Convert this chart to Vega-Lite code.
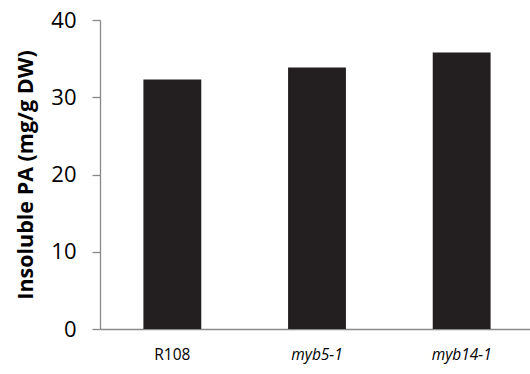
{
  "$schema": "https://vega.github.io/schema/vega-lite/v6.json",
  "width": 434,
  "height": 309,
  "autosize": {"type": "none"},
  "padding": {"left": 100, "top": 20, "right": 0, "bottom": 45},
  "background": "white",
  "config": {"view": {"stroke": null}, "font": "Open Sans"},
  "data": {
    "values": [
      {"genotype": "R108", "pa": 32.3},
      {"genotype": "myb5-1", "pa": 33.85},
      {"genotype": "myb14-1", "pa": 35.8}
    ]
  },
  "mark": {"type": "bar", "color": "#231f20"},
  "encoding": {
    "x": {
      "field": "genotype",
      "type": "nominal",
      "sort": null,
      "scale": {"paddingInner": 0.6, "paddingOuter": 0.3},
      "axis": {
        "title": null,
        "labelAngle": 0,
        "ticks": false,
        "tickSize": 0,
        "domainColor": "#898989",
        "domainWidth": 1.3,
        "labelFontSize": 15.5,
        "labelColor": "#000000",
        "labelPadding": 18,
        "labelFontStyle": {"condition": {"test": "datum.value != 'R108'", "value": "italic"}, "value": "normal"}
      }
    },
    "y": {
      "field": "pa",
      "type": "quantitative",
      "scale": {"domain": [0, 40]},
      "axis": {
        "title": "Insoluble PA (mg/g DW)",
        "titleFontSize": 21.5,
        "titleFontWeight": "bold",
        "titleColor": "#000000",
        "titleX": -74,
        "titleY": 154.5,
        "titleAngle": -90,
        "titleAlign": "center",
        "titleBaseline": "middle",
        "values": [0, 10, 20, 30, 40],
        "grid": false,
        "domainColor": "#898989",
        "domainWidth": 1.3,
        "tickColor": "#898989",
        "tickWidth": 1.3,
        "tickSize": 8,
        "labelFontSize": 22,
        "labelColor": "#000000",
        "labelPadding": 16
      }
    }
  }
}
